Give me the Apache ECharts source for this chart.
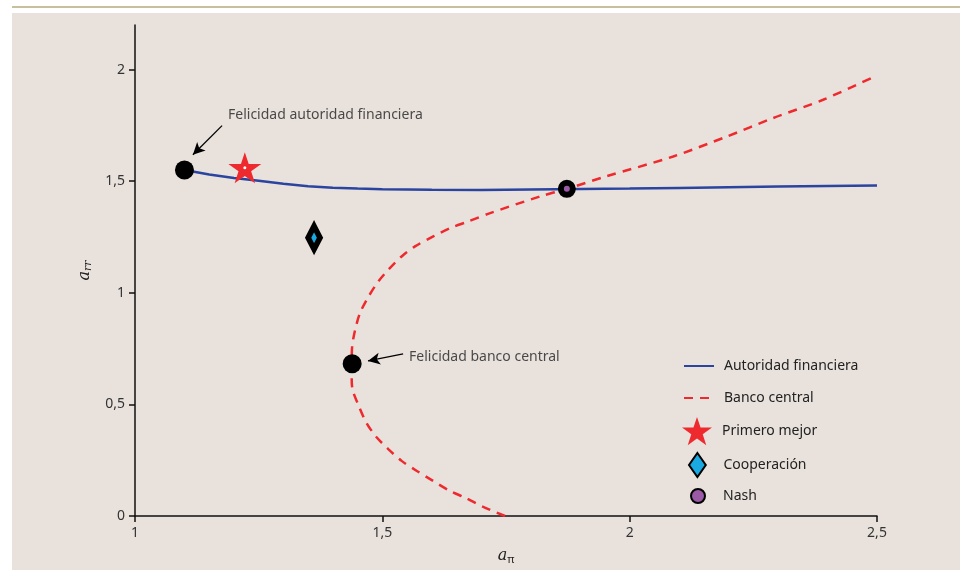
<!DOCTYPE html>
<html>
<head>
<meta charset="utf-8">
<script src="https://cdn.jsdelivr.net/npm/echarts@6/dist/echarts.min.js"></script>
<style>
  html, body { margin: 0; padding: 0; background: #ffffff; }
  #chart { width: 960px; height: 570px; }
</style>
</head>
<body>
<div id="chart"></div>
<script>
// Reaction curves: financial authority vs. central bank, in (a_pi, a_rr) space
const autoridadFinanciera = [
  [1.10, 1.550], [1.15, 1.530], [1.20, 1.514], [1.25, 1.502], [1.30, 1.489],
  [1.35, 1.478], [1.40, 1.471], [1.45, 1.467], [1.50, 1.464], [1.60, 1.462],
  [1.70, 1.461], [1.80, 1.463], [1.90, 1.465], [2.00, 1.467], [2.10, 1.470],
  [2.20, 1.473], [2.30, 1.476], [2.40, 1.479], [2.50, 1.481]
];

const bancoCentral = [
  [1.748, 0.000], [1.703, 0.042], [1.670, 0.079], [1.633, 0.117], [1.600, 0.161],
  [1.569, 0.203], [1.539, 0.247], [1.512, 0.300], [1.488, 0.354], [1.468, 0.417],
  [1.453, 0.490], [1.440, 0.565], [1.438, 0.620], [1.438, 0.680], [1.439, 0.760],
  [1.445, 0.834], [1.455, 0.910], [1.472, 0.983], [1.492, 1.051], [1.512, 1.103],
  [1.539, 1.163], [1.566, 1.208], [1.603, 1.253], [1.637, 1.290], [1.674, 1.320],
  [1.718, 1.357], [1.819, 1.432], [1.873, 1.466], [1.953, 1.522], [2.088, 1.611],
  [2.196, 1.700], [2.290, 1.783], [2.391, 1.865], [2.496, 1.970]
];

const primeroMejor = [[1.222, 1.560]];
const cooperacion = [[1.362, 1.247]];
const nash = [[1.873, 1.466]];
const felicidadAutoridad = [1.100, 1.550];
const felicidadBanco = [1.439, 0.682];

// Annotation text anchors and arrows (data coordinates)
const notas = [
  { value: [1.188, 1.798], text: 'Felicidad autoridad financiera' },
  { value: [1.554, 0.713], text: 'Felicidad banco central' }
];
const flechas = [
  [[1.176, 1.749], [1.117, 1.619]],
  [[1.542, 0.726], [1.471, 0.695]]
];

const xTicks = [1, 1.5, 2, 2.5];
const yTicks = [0, 0.5, 1, 1.5, 2];

const comma = v => String(v).replace('.', ',');
const FONT = '"Noto Sans", "Open Sans", sans-serif';
const SERIF = '"DejaVu Serif", "Liberation Serif", serif';
const STAR = 'path://M50,0 L61.8,35.4 L100,35.4 L69.1,57.3 L80.9,94.1 L50,71.8 L19.1,94.1 L30.9,57.3 L0,35.4 L38.2,35.4 Z';
const DIAMOND = 'path://M7,0 L14,10 L7,20 L0,10 Z';

const RED = '#ee2a2f';
const BLUE = '#2a44a0';

const chart = echarts.init(document.getElementById('chart'), null, { renderer: 'canvas' });

// One legend block per entry so each icon keeps its own size
function legendBlock(name, left, top, itemHeight, textPad, extra) {
  return Object.assign({
    orient: 'vertical', left: left, top: top, padding: 0,
    itemWidth: 30, itemHeight: itemHeight, selectedMode: false,
    textStyle: { color: '#222', fontSize: 14, fontFamily: FONT, padding: [0, 0, 0, textPad] },
    data: [name]
  }, extra || {});
}

chart.setOption({
  animation: false,
  backgroundColor: '#ffffff',
  textStyle: { fontFamily: FONT },
  graphic: [
    { type: 'line', silent: true, z: -10,
      shape: { x1: 12, y1: 7, x2: 960, y2: 7 },
      style: { stroke: '#c8bf9f', lineWidth: 2 } },
    { type: 'rect', silent: true, z: -10,
      shape: { x: 12, y: 13, width: 948, height: 557 },
      style: { fill: '#e9e2dc' } }
  ],
  grid: { left: 135, right: 83, top: 25, bottom: 54, containLabel: false },
  xAxis: {
    type: 'value', min: 1, max: 2.5,
    name: '{a|a}{s|π}', nameLocation: 'middle', nameGap: 30,
    nameTextStyle: {
      rich: {
        a: { fontFamily: SERIF, fontStyle: 'italic', fontSize: 16, color: '#222' },
        s: { fontFamily: FONT, fontSize: 11, color: '#222', padding: [8, 0, 0, 0] }
      }
    },
    axisLine: { show: true, lineStyle: { color: '#111', width: 1.5 } },
    axisTick: { show: true, length: 6, customValues: xTicks, lineStyle: { color: '#111', width: 1.5 } },
    axisLabel: { customValues: xTicks, formatter: comma, color: '#333', fontSize: 14, margin: 10 },
    splitLine: { show: false }
  },
  yAxis: {
    type: 'value', min: 0, max: 2.2,
    name: '{a|a}{s|rr}', nameLocation: 'middle', nameGap: 41, nameRotate: 90,
    nameTextStyle: {
      rich: {
        a: { fontFamily: SERIF, fontStyle: 'italic', fontSize: 16, color: '#222' },
        s: { fontFamily: SERIF, fontStyle: 'italic', fontSize: 11, color: '#222', padding: [8, 0, 0, 0] }
      }
    },
    axisLine: { show: true, lineStyle: { color: '#111', width: 1.5 } },
    axisTick: { show: true, length: 6, customValues: yTicks, lineStyle: { color: '#111', width: 1.5 } },
    axisLabel: { customValues: yTicks, formatter: comma, color: '#333', fontSize: 14, margin: 10 },
    splitLine: { show: false }
  },
  legend: [
    legendBlock('Autoridad financiera', 683, 359, 16, 5, { data: [{ name: 'Autoridad financiera', itemStyle: { opacity: 0 } }] }),
    legendBlock('Banco central', 683, 391, 16, 5, { data: [{ name: 'Banco central', itemStyle: { opacity: 0 } }] }),
    legendBlock('Primero mejor', 682, 417, 31, 5),
    legendBlock('Cooperación', 688, 452, 24, 6),
    legendBlock('Nash', 690, 488, 14, 5)
  ],
  series: [
    {
      name: 'Autoridad financiera', type: 'line', data: autoridadFinanciera,
      symbol: 'none', smooth: false, z: 3,
      lineStyle: { color: BLUE, width: 2.5 }, itemStyle: { color: BLUE }
    },
    {
      name: 'Banco central', type: 'line', data: bancoCentral,
      symbol: 'none', smooth: 0.3, z: 2,
      lineStyle: { color: RED, width: 2.5, type: [9, 7] }, itemStyle: { color: RED }
    },
    {
      name: 'Felicidad', type: 'scatter', data: [felicidadAutoridad, felicidadBanco],
      symbol: 'circle', symbolSize: 19, z: 5,
      itemStyle: { color: '#000000', opacity: 1 }
    },
    {
      name: 'Primero mejor', type: 'scatter', data: primeroMejor,
      symbol: STAR, symbolSize: 33, symbolKeepAspect: true, z: 5,
      itemStyle: { color: RED, opacity: 1 }
    },
    {
      name: 'estrella-centro', type: 'scatter', data: primeroMejor,
      symbol: 'circle', symbolSize: 3, z: 6, silent: true,
      itemStyle: { color: '#ffffff', opacity: 1 }
    },
    {
      name: 'Cooperación', type: 'scatter', data: cooperacion,
      symbol: DIAMOND, symbolSize: [17, 23], symbolKeepAspect: true, z: 5,
      itemStyle: { color: '#1aa9e1', borderColor: '#000000', borderWidth: 6, borderJoin: 'miter', opacity: 1 }
    },
    {
      name: 'Nash', type: 'scatter', data: nash,
      symbol: 'circle', symbolSize: 12, z: 6,
      itemStyle: { color: '#9a5aa6', borderColor: '#000000', borderWidth: 6, opacity: 1 }
    },
    {
      name: 'notas', type: 'scatter', symbolSize: 0, silent: true, z: 7,
      data: notas.map(n => ({ value: n.value, name: n.text })),
      label: {
        show: true, position: 'right', distance: 0,
        formatter: p => p.name, color: '#222', fontSize: 14, fontFamily: FONT
      },
      markLine: {
        silent: true, animation: false,
        symbol: ['none', 'arrow'], symbolSize: [9, 12],
        label: { show: false },
        lineStyle: { color: '#000000', width: 1.3, type: 'solid' },
        data: flechas.map(f => [{ coord: f[0] }, { coord: f[1] }])
      }
    }
  ]
});
</script>
</body>
</html>
